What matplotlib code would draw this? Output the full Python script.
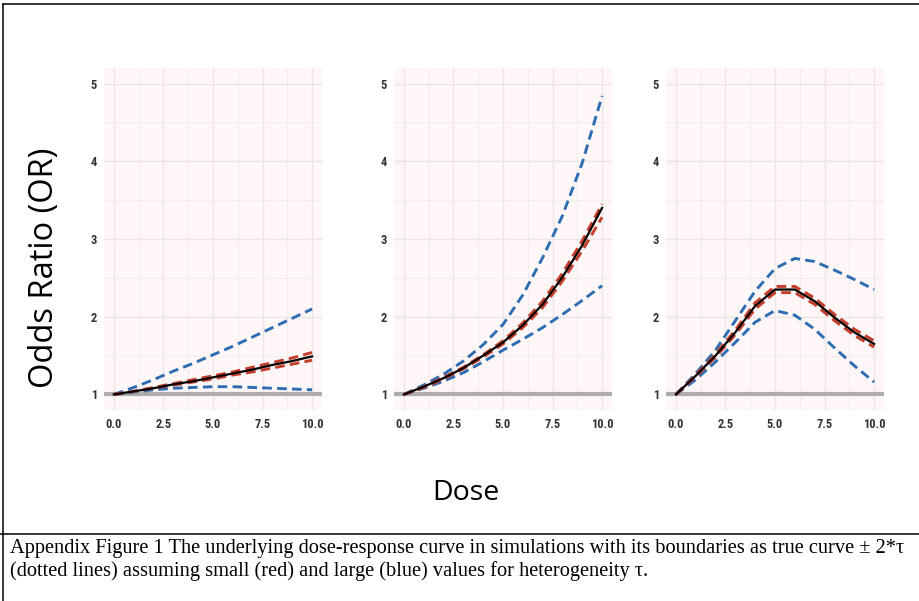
import matplotlib
matplotlib.use("Agg")
import matplotlib.pyplot as plt
from matplotlib.lines import Line2D
from matplotlib.ticker import MultipleLocator

# dose grid shared by all three scenarios
dose = [0, 1, 2, 3, 4, 5, 6, 7, 8, 9, 10]

# scenario 1: weak, nearly linear effect
or1 = [1.00, 1.04, 1.08, 1.13, 1.17, 1.22, 1.27, 1.32, 1.38, 1.43, 1.49]
red_hi1 = [1.00, 1.04, 1.09, 1.14, 1.19, 1.24, 1.29, 1.35, 1.41, 1.47, 1.54]
red_lo1 = [1.00, 1.04, 1.08, 1.12, 1.16, 1.20, 1.25, 1.29, 1.34, 1.39, 1.44]
blue_hi1 = [1.00, 1.09, 1.19, 1.30, 1.40, 1.51, 1.62, 1.74, 1.86, 1.98, 2.10]
blue_lo1 = [1.00, 1.03, 1.06, 1.08, 1.09, 1.10, 1.10, 1.09, 1.08, 1.07, 1.06]

# scenario 2: accelerating effect
or2 = [1.00, 1.10, 1.21, 1.34, 1.50, 1.67, 1.89, 2.16, 2.51, 2.92, 3.40]
red_hi2 = [1.00, 1.10, 1.22, 1.35, 1.51, 1.69, 1.92, 2.20, 2.56, 2.98, 3.45]
red_lo2 = [1.00, 1.09, 1.20, 1.33, 1.48, 1.65, 1.86, 2.12, 2.46, 2.85, 3.28]
blue_hi2 = [1.00, 1.12, 1.26, 1.43, 1.64, 1.90, 2.28, 2.76, 3.30, 3.98, 4.84]
blue_lo2 = [1.00, 1.08, 1.17, 1.28, 1.42, 1.57, 1.71, 1.86, 2.03, 2.21, 2.40]

# scenario 3: rise then decline
or3 = [1.00, 1.24, 1.50, 1.80, 2.14, 2.35, 2.35, 2.20, 1.99, 1.80, 1.65]
red_hi3 = [1.00, 1.25, 1.52, 1.83, 2.18, 2.39, 2.39, 2.24, 2.03, 1.84, 1.69]
red_lo3 = [1.00, 1.23, 1.48, 1.77, 2.10, 2.31, 2.31, 2.16, 1.95, 1.76, 1.61]
blue_hi3 = [1.00, 1.27, 1.57, 1.95, 2.33, 2.62, 2.75, 2.71, 2.60, 2.48, 2.35]
blue_lo3 = [1.00, 1.19, 1.42, 1.67, 1.93, 2.08, 2.02, 1.84, 1.60, 1.37, 1.16]

panels = [
    (or1, red_hi1, red_lo1, blue_hi1, blue_lo1),
    (or2, red_hi2, red_lo2, blue_hi2, blue_lo2),
    (or3, red_hi3, red_lo3, blue_hi3, blue_lo3),
]

x_ticks = [0, 2.5, 5, 7.5, 10]
x_labels = ["0.0", "2.5", "5.0", "7.5", "10.0"]
y_ticks = [1, 2, 3, 4, 5]

BLUE = "#2f6db3"
RED = "#c63f2c"
tick_font = ["Liberation Sans Narrow", "DejaVu Sans Condensed", "Roboto Condensed", "Roboto"]

fig = plt.figure(figsize=(9.19, 6.01), dpi=100)

lefts = [104 / 919, 394 / 919, 666 / 919]
bottom = 1 - 410 / 601
height = (410 - 68) / 601
width = 218 / 919

for left, (mid, rhi, rlo, bhi, blo) in zip(lefts, panels):
    ax = fig.add_axes([left, bottom, width, height])
    ax.set_facecolor("#fff7f7")
    for s in ax.spines.values():
        s.set_visible(False)
    ax.set_xlim(-0.5, 10.5)
    ax.set_ylim(0.8, 5.2)
    ax.set_xticks(x_ticks)
    ax.set_xticklabels(x_labels)
    ax.set_yticks(y_ticks)
    ax.xaxis.set_minor_locator(MultipleLocator(1.25))
    ax.yaxis.set_minor_locator(MultipleLocator(0.5))
    ax.grid(which="major", color="#ebe6e6", lw=1.0)
    ax.grid(which="minor", color="#f1eded", lw=0.6)
    ax.set_axisbelow(True)
    ax.tick_params(which="both", length=0)
    ax.tick_params(axis="y", pad=5)
    ax.tick_params(axis="x", pad=6)
    for lab in ax.get_xticklabels() + ax.get_yticklabels():
        lab.set_family(tick_font)
        lab.set_fontweight("bold")
        lab.set_fontsize(9)
        lab.set_color("#333333")

    ax.axhline(1, color="#adadad", lw=3.0, zorder=2)
    for ys, c in [(bhi, BLUE), (blo, BLUE), (rhi, RED), (rlo, RED)]:
        ax.plot(dose, ys, color=c, lw=2.1, dashes=(3.3, 1.8), zorder=3)
    ax.plot(dose, mid, color="black", lw=1.6, zorder=4)

fig.text(45 / 919, 1 - 268 / 601, "Odds Ratio (OR)", rotation=90,
         ha="center", va="center", family="Open Sans", fontsize=23.5)
fig.text(466 / 919, 1 - 493 / 601, "Dose", ha="center", va="center",
         family="Open Sans", fontsize=20.5)

caption = ("Appendix Figure 1 The underlying dose-response curve in simulations "
           "with its boundaries as true curve \u00b1 2*\u03c4\n"
           "(dotted lines) assuming small (red) and large (blue) values for "
           "heterogeneity \u03c4.")
fig.text(10 / 919, 1 - 539 / 601, caption, ha="left", va="top",
         family="Liberation Serif", fontsize=14.7, linespacing=1.22)

# page frame around figure and caption
frame = dict(color="black", lw=1.1, transform=fig.transFigure)
fig.add_artist(Line2D([3 / 919, 1], [1 - 4 / 601] * 2, **frame))
fig.add_artist(Line2D([3 / 919] * 2, [0, 1 - 4 / 601], **frame))
fig.add_artist(Line2D([0, 1], [1 - 533.5 / 601] * 2, **frame))

fig.savefig("out.png", dpi=100)
